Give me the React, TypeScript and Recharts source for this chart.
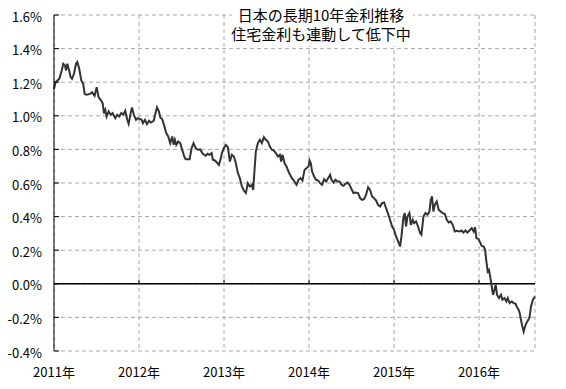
import React from "react"
import {
  LineChart,
  Line,
  XAxis,
  YAxis,
  CartesianGrid,
  ReferenceLine,
} from "recharts"

// decimal years
const dates = [
  2011.000, 2011.018, 2011.062, 2011.091, 2011.109, 2011.129, 2011.141, 2011.156, 2011.173, 2011.196,
  2011.212, 2011.235, 2011.259, 2011.274, 2011.297, 2011.321, 2011.344, 2011.361, 2011.384, 2011.423,
  2011.447, 2011.478, 2011.502, 2011.525, 2011.549, 2011.572, 2011.588, 2011.603, 2011.619, 2011.643,
  2011.667, 2011.690, 2011.721, 2011.744, 2011.768, 2011.791, 2011.815, 2011.838, 2011.862, 2011.878,
  2011.902, 2011.917, 2011.940, 2011.964, 2011.987, 2012.031, 2012.046, 2012.070, 2012.093, 2012.117,
  2012.140, 2012.172, 2012.195, 2012.211, 2012.234, 2012.250, 2012.273, 2012.297, 2012.320, 2012.344,
  2012.367, 2012.391, 2012.407, 2012.422, 2012.438, 2012.461, 2012.485, 2012.508, 2012.532, 2012.548,
  2012.595, 2012.619, 2012.642, 2012.666, 2012.696, 2012.720, 2012.751, 2012.783, 2012.807, 2012.830,
  2012.854, 2012.869, 2012.893, 2012.916, 2012.940, 2012.963, 2012.975, 2012.998, 2013.022, 2013.045,
  2013.069, 2013.092, 2013.116, 2013.139, 2013.163, 2013.186, 2013.210, 2013.233, 2013.257, 2013.280,
  2013.304, 2013.328, 2013.343, 2013.359, 2013.374, 2013.398, 2013.422, 2013.445, 2013.469, 2013.492,
  2013.516, 2013.539, 2013.563, 2013.586, 2013.610, 2013.633, 2013.657, 2013.672, 2013.688, 2013.712,
  2013.735, 2013.766, 2013.798, 2013.829, 2013.853, 2013.876, 2013.900, 2013.923, 2013.947, 2013.971,
  2013.994, 2014.006, 2014.021, 2014.036, 2014.060, 2014.083, 2014.107, 2014.130, 2014.154, 2014.177,
  2014.201, 2014.224, 2014.248, 2014.264, 2014.288, 2014.311, 2014.335, 2014.358, 2014.382, 2014.405,
  2014.429, 2014.452, 2014.476, 2014.499, 2014.523, 2014.547, 2014.577, 2014.601, 2014.624, 2014.648,
  2014.671, 2014.695, 2014.718, 2014.742, 2014.765, 2014.789, 2014.812, 2014.836, 2014.859, 2014.883,
  2014.906, 2014.930, 2014.953, 2014.977, 2015.000, 2015.024, 2015.056, 2015.071, 2015.087, 2015.111,
  2015.126, 2015.141, 2015.158, 2015.181, 2015.197, 2015.220, 2015.235, 2015.259, 2015.282, 2015.306,
  2015.322, 2015.346, 2015.369, 2015.393, 2015.416, 2015.432, 2015.447, 2015.463, 2015.479, 2015.502,
  2015.526, 2015.549, 2015.573, 2015.596, 2015.620, 2015.643, 2015.667, 2015.690, 2015.714, 2015.737,
  2015.769, 2015.793, 2015.816, 2015.840, 2015.863, 2015.887, 2015.914, 2015.937, 2015.953, 2015.969,
  2015.993, 2016.016, 2016.031, 2016.055, 2016.071, 2016.086, 2016.102, 2016.117, 2016.134, 2016.149,
  2016.165, 2016.181, 2016.196, 2016.211, 2016.235, 2016.258, 2016.274, 2016.298, 2016.321, 2016.337,
  2016.360, 2016.384, 2016.407, 2016.431, 2016.446, 2016.462, 2016.478, 2016.493, 2016.509, 2016.525,
  2016.540, 2016.557, 2016.580, 2016.595, 2016.611, 2016.634, 2016.658,
]

// 10-year JGB yield, %
const yields = [
  1.16, 1.20, 1.22, 1.27, 1.31, 1.30, 1.27, 1.31, 1.28, 1.23,
  1.22, 1.25, 1.31, 1.32, 1.28, 1.21, 1.19, 1.13, 1.125, 1.13,
  1.14, 1.12, 1.17, 1.11, 1.095, 1.075, 1.015, 1.035, 0.996, 1.026,
  1.006, 1.016, 0.986, 1.006, 0.996, 1.016, 1.006, 1.03, 0.976, 0.952,
  1.016, 1.05, 1.006, 0.976, 0.986, 0.976, 0.956, 0.976, 0.95, 0.97,
  0.96, 0.97, 1.016, 1.05, 1.026, 0.99, 0.98, 0.94, 0.897, 0.877,
  0.837, 0.877, 0.827, 0.857, 0.827, 0.847, 0.837, 0.798, 0.758, 0.742,
  0.742, 0.808, 0.837, 0.808, 0.798, 0.80, 0.774, 0.762, 0.774, 0.768,
  0.778, 0.738, 0.734, 0.722, 0.708, 0.748, 0.778, 0.808, 0.827, 0.813,
  0.728, 0.768, 0.758, 0.718, 0.659, 0.629, 0.579, 0.555, 0.540, 0.599,
  0.579, 0.589, 0.559, 0.678, 0.787, 0.837, 0.857, 0.837, 0.873, 0.857,
  0.847, 0.817, 0.798, 0.793, 0.778, 0.758, 0.768, 0.728, 0.768, 0.718,
  0.698, 0.659, 0.629, 0.609, 0.589, 0.619, 0.629, 0.615, 0.678, 0.689,
  0.698, 0.734, 0.718, 0.668, 0.639, 0.619, 0.615, 0.599, 0.589, 0.623,
  0.609, 0.629, 0.649, 0.619, 0.603, 0.619, 0.609, 0.609, 0.589, 0.583,
  0.595, 0.603, 0.589, 0.564, 0.540, 0.543, 0.540, 0.510, 0.50, 0.504,
  0.530, 0.575, 0.559, 0.520, 0.510, 0.496, 0.470, 0.460, 0.480, 0.484,
  0.450, 0.417, 0.381, 0.341, 0.321, 0.282, 0.242, 0.222, 0.282, 0.40,
  0.421, 0.341, 0.40, 0.421, 0.351, 0.381, 0.361, 0.371, 0.341, 0.302,
  0.292, 0.40, 0.421, 0.411, 0.430, 0.50, 0.520, 0.430, 0.470, 0.490,
  0.440, 0.430, 0.421, 0.417, 0.381, 0.365, 0.371, 0.351, 0.311, 0.315,
  0.311, 0.317, 0.305, 0.317, 0.305, 0.317, 0.331, 0.311, 0.337, 0.272,
  0.266, 0.242, 0.226, 0.222, 0.202, 0.133, 0.073, 0.083, 0.034, -0.016,
  -0.065, -0.036, -0.006, -0.065, -0.085, -0.065, -0.095, -0.085, -0.105, -0.085,
  -0.115, -0.105, -0.115, -0.119, -0.139, -0.151, -0.174, -0.214, -0.254, -0.284,
  -0.254, -0.234, -0.214, -0.195, -0.135, -0.095, -0.076,
]

const yearTicks = [2011, 2012, 2013, 2014, 2015, 2016]
const pctTicks = [-0.4, -0.2, 0, 0.2, 0.4, 0.6, 0.8, 1.0, 1.2, 1.4, 1.6]
const titleLines = ["日本の長期10年金利推移", "住宅金利も連動して低下中"]

const data = dates.map((t, i) => ({ t, v: yields[i] }))

const FONT = "'Noto Sans CJK JP', 'Liberation Sans', sans-serif"
const Y_TICK_MARGIN = 12

function fmtPct(v: number) {
  return `${v.toFixed(1)}%`
}

function YTick({ x, y, payload }: any) {
  return (
    <g>
      <line x1={x + Y_TICK_MARGIN} x2={x + Y_TICK_MARGIN + 5} y1={y} y2={y} stroke="#000" />
      <text x={x} y={y} dy={6.5} textAnchor="end" fontSize={13} fill="#000" fontFamily={FONT}>
        {fmtPct(payload.value)}
      </text>
    </g>
  )
}

export default function App() {
  return (
    <div style={{ position: "absolute", left: 0, top: 0, background: "#fff" }}>
      <LineChart
        width={566}
        height={389}
        data={data}
        margin={{ top: 15, right: 31, left: 0, bottom: 0 }}
        style={{ fontFamily: FONT }}
      >
        <CartesianGrid stroke="#a8a8a8" strokeDasharray="4 3" />
        <XAxis
          dataKey="t"
          type="number"
          domain={[2011, 2016.658]}
          ticks={yearTicks}
          tickFormatter={(v) => `${v}年`}
          axisLine={false}
          tickLine={false}
          tickSize={0}
          tickMargin={17}
          height={38}
          tick={{ fontSize: 13, fill: "#000" }}
        />
        <YAxis
          type="number"
          domain={[-0.4, 1.6]}
          ticks={pctTicks}
          width={54}
          tickSize={0}
          tickMargin={Y_TICK_MARGIN}
          tickLine={false}
          axisLine={{ stroke: "#000" }}
          tick={<YTick />}
          interval={0}
        />
        <ReferenceLine y={0} stroke="#000" strokeWidth={1.5} />
        {yearTicks.slice(1).map((yr) => (
          <ReferenceLine
            key={yr}
            segment={[
              { x: yr, y: 0 },
              { x: yr, y: 0.025 },
            ]}
            stroke="#000"
          />
        ))}
        <Line
          type="linear"
          dataKey="v"
          stroke="#333"
          strokeWidth={2}
          dot={false}
          isAnimationActive={false}
        />
        <rect x={232} y={4} width={181} height={42} fill="#fff" />
        {titleLines.map((s, i) => (
          <text key={i} x={321} y={21 + i * 19} textAnchor="middle" fontSize={15} fill="#000" fontFamily={FONT}>
            {s}
          </text>
        ))}
      </LineChart>
    </div>
  )
}
